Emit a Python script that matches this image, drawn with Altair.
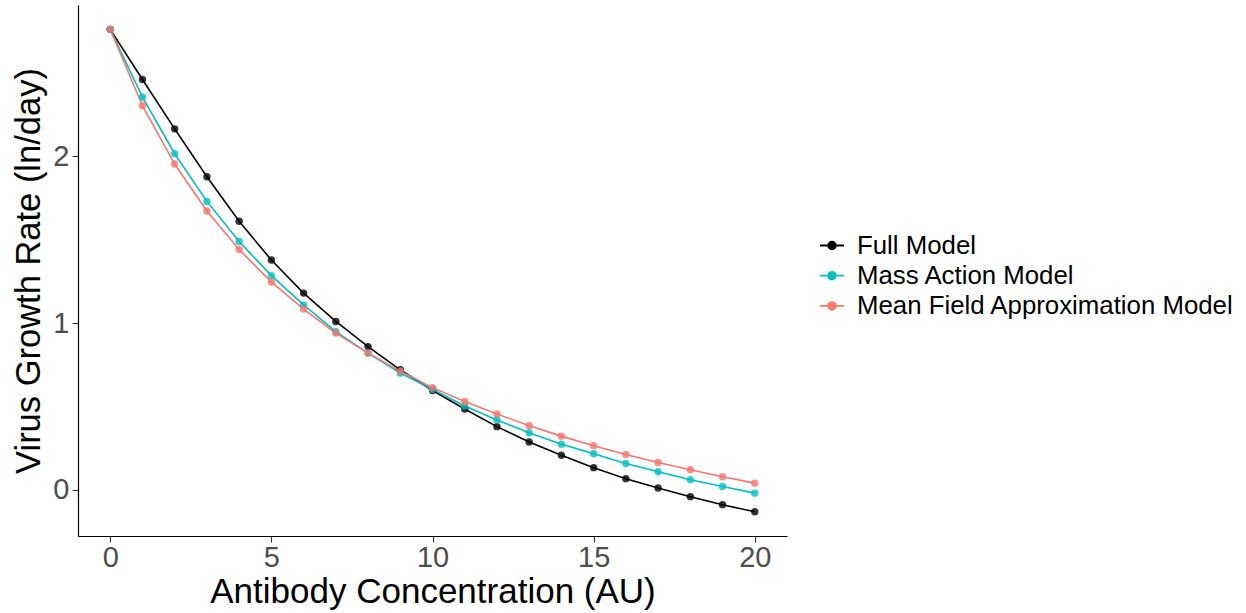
import altair as alt
import pandas as pd

conc = list(range(21))
full_model = [2.762, 2.461, 2.165, 1.878, 1.611, 1.378, 1.180, 1.010, 0.859, 0.720, 0.596,
              0.485, 0.379, 0.287, 0.207, 0.133, 0.067, 0.011, -0.041, -0.089, -0.132]
mass_action = [2.762, 2.356, 2.016, 1.730, 1.489, 1.285, 1.109, 0.949, 0.820, 0.700, 0.603,
               0.503, 0.419, 0.342, 0.274, 0.216, 0.158, 0.108, 0.060, 0.020, -0.020]
mean_field = [2.762, 2.304, 1.954, 1.672, 1.441, 1.247, 1.084, 0.940, 0.820, 0.712, 0.613,
              0.530, 0.455, 0.384, 0.322, 0.264, 0.212, 0.164, 0.120, 0.078, 0.040]

series = ["Full Model", "Mass Action Model", "Mean Field Approximation Model"]
colors = ["#000000", "#00BFC4", "#F8766D"]

rows = []
for name, vals in zip(series, [full_model, mass_action, mean_field]):
    for c, v in zip(conc, vals):
        rows.append({"conc": c, "rate": v, "model": name})
df = pd.DataFrame(rows)

FONT = "Liberation Sans"

x = alt.X("conc:Q", scale=alt.Scale(domain=[-1, 21], nice=False, zero=False),
          axis=alt.Axis(title="Antibody Concentration (AU)", values=[0, 5, 10, 15, 20],
                        grid=False, domainColor="#000000", domainWidth=1.2,
                        tickColor="#333333", tickSize=6, tickWidth=1.1,
                        labelFontSize=29, labelColor="#4d4d4d", labelFont=FONT, labelPadding=1,
                        titleFontSize=35, titleColor="#000000", titleFont=FONT,
                        titleFontWeight="normal", titlePadding=2))
y = alt.Y("rate:Q", scale=alt.Scale(domain=[-0.277, 2.908], nice=False, zero=False),
          axis=alt.Axis(title="Virus Growth Rate (ln/day)", values=[0, 1, 2],
                        grid=False, domainColor="#000000", domainWidth=1.2,
                        tickColor="#333333", tickSize=6, tickWidth=1.1,
                        labelFontSize=29, labelColor="#4d4d4d", labelFont=FONT, labelPadding=3,
                        titleFontSize=34.5, titleColor="#000000", titleFont=FONT,
                        titleFontWeight="normal", titlePadding=6))

legend_symbol = "M-1,0L1,0M-0.32,0A0.32,0.32 0 1,1 0.32,0A0.32,0.32 0 1,1 -0.32,0Z"
color = alt.Color("model:N", scale=alt.Scale(domain=series, range=colors),
                  legend=alt.Legend(title=None, orient="none", legendX=741, legendY=227.5,
                                    symbolType=legend_symbol, symbolSize=576,
                                    symbolStrokeWidth=1.8, symbolOpacity=1,
                                    labelFontSize=25.8, labelFont=FONT, labelColor="#000000",
                                    labelLimit=0,
                                    rowPadding=4.2, labelOffset=12, padding=0))

base = alt.Chart(df)
lines = base.mark_line(strokeWidth=1.6).encode(x=x, y=y, color=color, order="conc:Q")
points = base.mark_circle(size=55, opacity=0.8).encode(x=x, y=y, color=color)

chart = alt.layer(lines, points).properties(
    width=709, height=531,
    background="#ffffff",
    autosize=alt.AutoSizeParams(type="none"),
    padding={"left": 78, "top": 5, "right": 459, "bottom": 77},
).configure_view(stroke=None)

chart.save("out.html", embed_options={"renderer": "svg", "actions": False})
